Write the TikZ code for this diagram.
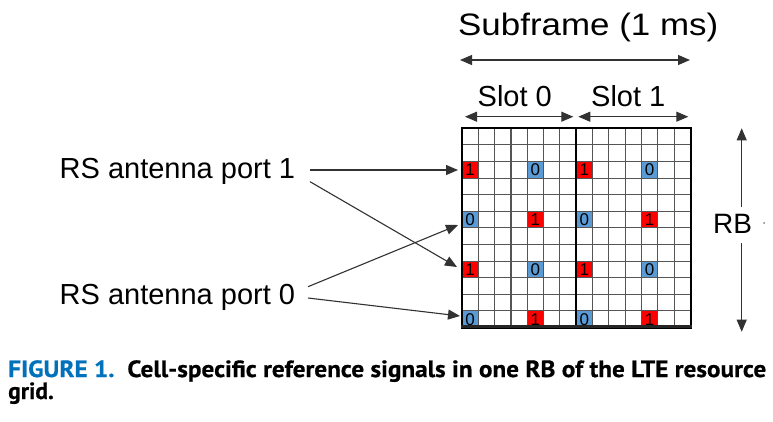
\documentclass[tikz,border=0pt]{standalone}
\usepackage{fontspec}
\setmainfont{Liberation Sans}
\newfontfamily\capfont[BoldFeatures={FakeBold=0.6}]{PT Sans}
\usetikzlibrary{arrows.meta}
\definecolor{rsred}{RGB}{255,0,0}
\definecolor{rsblue}{RGB}{91,155,213}
\definecolor{capblue}{RGB}{0,114,188}
\definecolor{gridgray}{RGB}{85,85,85}
\definecolor{conngray}{RGB}{50,50,50}
\newcommand{\capone}{\capfont\bfseries\fontsize{23.5}{22}\selectfont\textcolor{capblue}{FIGURE 1.}\hspace{12pt}Cell-specific reference signals in one RB of the LTE resource}
\newcommand{\captwo}{\capfont\bfseries\fontsize{23.5}{22}\selectfont grid.}
\begin{document}
\begin{tikzpicture}[x=1pt,y=-1pt,
  lbl/.style={inner sep=0pt, anchor=base west, font=\fontsize{29}{29}\selectfont},
  rscell/.style={inner sep=0pt, minimum width=16.32pt, minimum height=16.6pt, font=\fontsize{17}{17}\selectfont},
  conn/.style={draw=conngray, line width=1.1pt, -{Triangle[length=12pt,width=10pt]}},
  dim/.style={draw=conngray, line width=1.1pt, {Triangle[length=12pt,width=10pt]}-{Triangle[length=12pt,width=10pt]}},
  rbarrow/.style={draw=conngray, line width=0.9pt, -{Triangle[length=12pt,width=10pt]}},
  gridline/.style={draw=gridgray, line width=1.1pt}]
\useasboundingbox (0,0) rectangle (773,421);
\fill[white] (0,0) rectangle (773,421);

% RS cells
\foreach \s in {0,1}{
  \foreach \r/\ca/\cb/\da/\db in {2/rsred/rsblue/1/0,5/rsblue/rsred/0/1,8/rsred/rsblue/1/0,11/rsblue/rsred/0/1}{
    \pgfmathsetmacro{\ya}{128.3+(\r+0.5)*16.6}
    \pgfmathsetmacro{\xa}{462+(7*\s+0.5)*16.32}
    \pgfmathsetmacro{\xb}{462+(7*\s+4.5)*16.32}
    \node[rscell, fill=\ca] (s\s r\r a) at (\xa,\ya) {\da};
    \node[rscell, fill=\cb] (s\s r\r b) at (\xb,\ya) {\db};
  }
}
% grid lines
\foreach \i in {1,...,13}{
  \draw[gridline] ({462+\i*16.32},128.3) -- ({462+\i*16.32},327.5);
}
\foreach \j in {1,...,11}{
  \draw[gridline] (462,{128.3+\j*16.6}) -- (690.5,{128.3+\j*16.6});
}
\draw[black, line width=2pt] (462,128.3) rectangle (690.5,327.5);
\draw[black, line width=2pt] (576.25,128.3) -- (576.25,327.5);
\draw[black!85, line width=3.5pt] (461,326.5) -- (691.5,326.5);

% labels
\node[lbl] (p1) at (59.5,178) {RS antenna port 1};
\node[lbl] (p0) at (59.5,304) {RS antenna port 0};
\node[lbl] (sf) at (458,35) {\resizebox{260pt}{\height}{\fontsize{31}{31}\selectfont Subframe (1 ms)}};
\node[lbl] (sl0) at (477.5,106) {Slot 0};
\node[lbl] (sl1) at (591,106) {Slot 1};
\node[lbl, font=\fontsize{28}{28}\selectfont] (rb) at (713,233) {RB};
\fill[gray] (764,223) circle (1);

% connector coordinates
\coordinate (p1a) at (310,170);
\coordinate (p1b) at (310,181.7);
\coordinate (p0a) at (308,286.7);
\coordinate (p0b) at (308,298);
\coordinate (t2) at (458,170);
\coordinate (t8) at (457,267);
\coordinate (t5) at (458,225);
\coordinate (t11) at (460,316);
\draw[conn] (p1a) -- (t2);
\draw[conn] (p1b) -- (t8);
\draw[conn] (p0a) -- (t5);
\draw[conn] (p0b) -- (t11);

% dimension arrows
\coordinate (sfl) at (460,60); \coordinate (sfr) at (690,60);
\coordinate (s0l) at (465,116.7); \coordinate (s0r) at (573.3,116.7);
\coordinate (s1l) at (578.3,116.7); \coordinate (s1r) at (688.3,116.7);
\draw[dim] (sfl) -- (sfr);
\draw[dim] (s0l) -- (s0r);
\draw[dim] (s1l) -- (s1r);
\coordinate (rbt) at (741.7,128.3); \coordinate (rbtm) at (741.7,206.7);
\coordinate (rbb) at (741.7,331.7); \coordinate (rbbm) at (741.7,243);
\draw[rbarrow] (rbtm) -- (rbt);
\draw[rbarrow] (rbbm) -- (rbb);

% caption
\node[inner sep=0pt, anchor=base west] (cap1) at (8,377) {\resizebox{758pt}{\height}{\capone}};
\node[inner sep=0pt, anchor=base west] (cap2) at (8,399) {\captwo};
\end{tikzpicture}
\end{document}
